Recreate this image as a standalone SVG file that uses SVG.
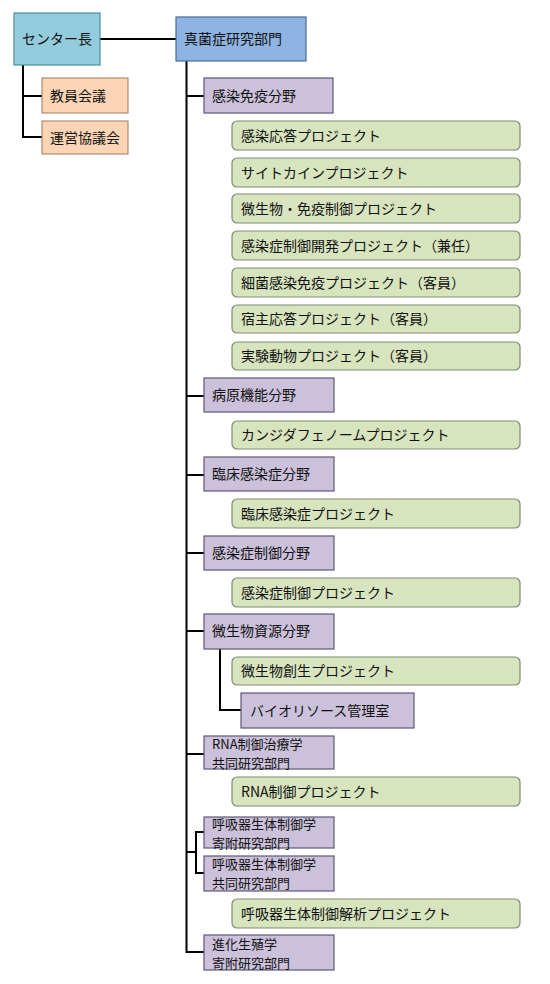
<svg xmlns="http://www.w3.org/2000/svg" width="550" height="984" viewBox="0 0 550 984">
<style>
text{font-family:"Noto Sans CJK JP","Noto Sans",sans-serif;font-size:14px;fill:#111}
text.s{font-size:13px}
.c{fill:#93CDDD;stroke:#4A8C9C;stroke-width:1.2}
.b{fill:#8DB4E2;stroke:#4A6B98;stroke-width:1.2}
.o{fill:#FBD5B5;stroke:#A07A5A;stroke-width:1}
.p{fill:#CCC1DA;stroke:#5E5878;stroke-width:1.2}
.g{fill:#D7E4BD;stroke:#7E8C72;stroke-width:1.2}
.ln{fill:none;stroke:#000;stroke-width:2}
</style>
<rect width="550" height="984" fill="#fff"/>
<g id="connectors" class="ln">
<path d="M100,39H176"/>
<path d="M23,65V137H42M23,96H42"/>
<path d="M186.5,61V952H204"/>
<path d="M186.5,96H204M186.5,396H204M186.5,475H204M186.5,553H204M186.5,631H204M186.5,754H204"/>
<path d="M220,649V710H241"/>
<path d="M186.5,852H196M204,832H196V873H204"/>
</g>
<g id="center"><rect class="c" x="14" y="13" width="86" height="52"/><text x="22" y="44">センター長</text></g>
<g id="kyoin"><rect class="o" x="42" y="78" width="86" height="35"/><text x="50" y="101">教員会議</text></g>
<g id="unei"><rect class="o" x="42" y="121" width="86" height="33"/><text x="50" y="143">運営協議会</text></g>
<g id="shinkin"><rect class="b" x="176" y="17" width="130" height="44"/><text x="184" y="44">真菌症研究部門</text></g>
<g id="kansen-men-eki"><rect class="p" x="204" y="78" width="129" height="35"/><text x="212" y="101">感染免疫分野</text></g>
<g id="p1"><rect class="g" x="232" y="121" width="288" height="29" rx="5"/><text x="241" y="141">感染応答プロジェクト</text></g>
<g id="p2"><rect class="g" x="232" y="158" width="288" height="29" rx="5"/><text x="241" y="178">サイトカインプロジェクト</text></g>
<g id="p3"><rect class="g" x="232" y="194" width="288" height="29" rx="5"/><text x="241" y="214">微生物・免疫制御プロジェクト</text></g>
<g id="p4"><rect class="g" x="232" y="231" width="288" height="29" rx="5"/><text x="241" y="251">感染症制御開発プロジェクト（兼任）</text></g>
<g id="p5"><rect class="g" x="232" y="268" width="288" height="29" rx="5"/><text x="241" y="288">細菌感染免疫プロジェクト（客員）</text></g>
<g id="p6"><rect class="g" x="232" y="305" width="288" height="28" rx="5"/><text x="241" y="324">宿主応答プロジェクト（客員）</text></g>
<g id="p7"><rect class="g" x="232" y="342" width="288" height="28" rx="5"/><text x="241" y="361">実験動物プロジェクト（客員）</text></g>
<g id="byogen"><rect class="p" x="204" y="378" width="130" height="34"/><text x="212" y="400">病原機能分野</text></g>
<g id="p8"><rect class="g" x="232" y="421" width="288" height="28" rx="5"/><text x="241" y="440">カンジダフェノームプロジェクト</text></g>
<g id="rinsho"><rect class="p" x="204" y="457" width="130" height="34"/><text x="212" y="479">臨床感染症分野</text></g>
<g id="p9"><rect class="g" x="232" y="499" width="288" height="29" rx="5"/><text x="241" y="519">臨床感染症プロジェクト</text></g>
<g id="kansenseigyo"><rect class="p" x="204" y="536" width="130" height="34"/><text x="212" y="558">感染症制御分野</text></g>
<g id="p10"><rect class="g" x="232" y="578" width="288" height="29" rx="5"/><text x="241" y="598">感染症制御プロジェクト</text></g>
<g id="biseibutsu"><rect class="p" x="204" y="614" width="130" height="35"/><text x="212" y="636">微生物資源分野</text></g>
<g id="p11"><rect class="g" x="232" y="657" width="288" height="28" rx="5"/><text x="241" y="676">微生物創生プロジェクト</text></g>
<g id="bioresource"><rect class="p" x="241" y="693" width="173" height="35"/><text x="250" y="716">バイオリソース管理室</text></g>
<g id="rna"><rect class="p" x="204" y="736" width="130" height="33"/><text class="s" x="212" y="749">RNA制御治療学</text><text class="s" x="212" y="768">共同研究部門</text></g>
<g id="p12"><rect class="g" x="232" y="777" width="288" height="29" rx="5"/><text x="241" y="797">RNA制御プロジェクト</text></g>
<g id="kokyuki-kifu"><rect class="p" x="204" y="817" width="130" height="31"/><text class="s" x="212" y="829">呼吸器生体制御学</text><text class="s" x="212" y="848">寄附研究部門</text></g>
<g id="kokyuki-kyodo"><rect class="p" x="204" y="856" width="130" height="35"/><text class="s" x="212" y="869">呼吸器生体制御学</text><text class="s" x="212" y="888">共同研究部門</text></g>
<g id="p13"><rect class="g" x="232" y="899" width="288" height="29" rx="5"/><text x="241" y="919">呼吸器生体制御解析プロジェクト</text></g>
<g id="shinka"><rect class="p" x="204" y="935" width="130" height="35"/><text class="s" x="212" y="949">進化生殖学</text><text class="s" x="212" y="968">寄附研究部門</text></g>
</svg>
